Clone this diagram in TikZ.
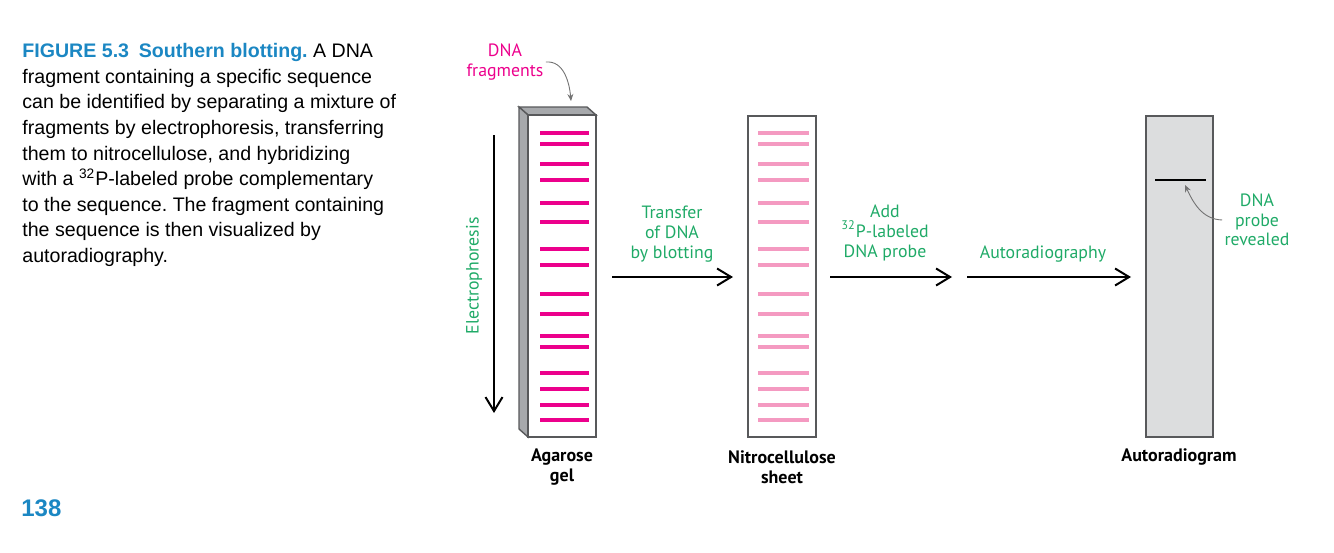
\documentclass[tikz,border=0pt]{standalone}
\usepackage{fontspec}
\setmainfont{Liberation Sans}
\newfontfamily\figfont{PT Sans}
\usetikzlibrary{arrows.meta}
\frenchspacing
\definecolor{figblue}{HTML}{1B87C3}
\definecolor{figgreen}{HTML}{1FAA67}
\definecolor{figpink}{HTML}{EC008C}
\definecolor{figrose}{HTML}{F49AC1}
\definecolor{figgray}{HTML}{A7A9AC}
\definecolor{figfilm}{HTML}{DCDDDE}
\definecolor{figedge}{HTML}{58595B}
\tikzset{
  lbl/.style={font=\figfont\fontsize{8.9}{9.8}\selectfont, text=figgreen, align=center, inner sep=0pt},
  sheetname/.style={font=\figfont\bfseries\fontsize{9}{10}\selectfont, align=center, inner sep=0pt},
  steparrow/.style={-{Straight Barb[length=7pt,width=8.5pt]}, line width=1pt},
  pointer/.style={-{Stealth[length=3.5pt,width=3pt]}, black!55, line width=0.45pt},
  band/.style={line width=1.6pt},
}

\begin{document}
\begin{tikzpicture}[x=0.5pt,y=-0.5pt]
    \useasboundingbox (0,0) rectangle (1334,552);
    % caption
    \node[anchor=north west, align=left, inner sep=0pt, font=\fontsize{9.8}{12.8}\selectfont] (cap) at (22,43)
      {{\color{figblue}\bfseries FIGURE 5.3\enspace Southern blotting.} A DNA\\
       fragment containing a specific sequence\\
       can be identified by separating a mixture of\\
       fragments by electrophoresis, transferring\\
       them to nitrocellulose, and hybridizing\\
       with a \textsuperscript{32}P-labeled probe complementary\\
       to the sequence. The fragment containing\\
       the sequence is then visualized by\\
       autoradiography.};
    \node[anchor=west, inner sep=0pt, font=\bfseries\fontsize{12}{14}\selectfont, text=figblue] (page) at (21,508) {138};
    % agarose gel
    \filldraw[fill=figgray, draw=figedge, line width=0.7pt] (519,107) -- (587,107) -- (596,115) -- (528,115) -- cycle;
    \filldraw[fill=figgray, draw=figedge, line width=0.7pt] (519,107) -- (528,115) -- (528,437) -- (519,429) -- cycle;
    \filldraw[fill=white, draw=figedge, line width=0.7pt] (528,115) rectangle (596,437);
    \foreach \y in {133,144,164,180,203,222,249,265,294,314,336,347,373,389,405,420}
      \draw[band, figpink] (540,\y) -- (589,\y);
    % nitrocellulose
    \filldraw[fill=white, draw=figedge, line width=0.7pt] (748,116) rectangle (816,437);
    \foreach \y in {133,144,164,180,203,222,249,265,294,314,336,347,373,389,405,420}
      \draw[band, figrose] (758,\y) -- (809,\y);
    % autoradiogram
    \filldraw[fill=figfilm, draw=figedge, line width=0.7pt] (1146,116) rectangle (1213,437);
    \draw[line width=1.2pt] (1155,180) -- (1206,180);
    % electrophoresis
    \coordinate (etop) at (494,135);
    \coordinate (ebot) at (494,413);
    \draw[steparrow] (etop) -- (ebot);
    \node[lbl, rotate=90] (elec) at (474,276) {Electrophoresis};
    % steps
    \coordinate (a1) at (612,277); \coordinate (b1) at (733,277);
    \coordinate (a2) at (830,277); \coordinate (b2) at (952,277);
    \coordinate (a3) at (967,277); \coordinate (b3) at (1131,277);
    \draw[steparrow] (a1) -- (b1);
    \draw[steparrow] (a2) -- (b2);
    \draw[steparrow] (a3) -- (b3);
    \node[lbl] (blot) at (672,234) {Transfer\\of DNA\\by blotting};
    \node[lbl] (probe) at (885,233) {Add\\\textsuperscript{32}P-labeled\\DNA probe};
    \node[lbl] (autorad) at (1043,254) {Autoradiography};
    % pointers
    \node[lbl, text=figpink] (frag) at (505,62) {DNA\\fragments};
    \coordinate (gtop) at (571,101);
    \draw[pointer] ([xshift=1pt]frag.east) to[out=5,in=95] (gtop);
    \node[lbl] (rev) at (1257,220) {DNA\\probe\\revealed};
    \coordinate (spot) at (1185,185);
    \draw[pointer] ([xshift=-1pt]rev.west) to[out=178,in=-65] (spot);
    % names
    \node[sheetname] (gel) at (562,467) {Agarose\\gel};
    \node[sheetname] (nitro) at (782,467) {Nitrocellulose\\sheet};
    \node[sheetname] (film) at (1179,457) {Autoradiogram};
\end{tikzpicture}
\end{document}
